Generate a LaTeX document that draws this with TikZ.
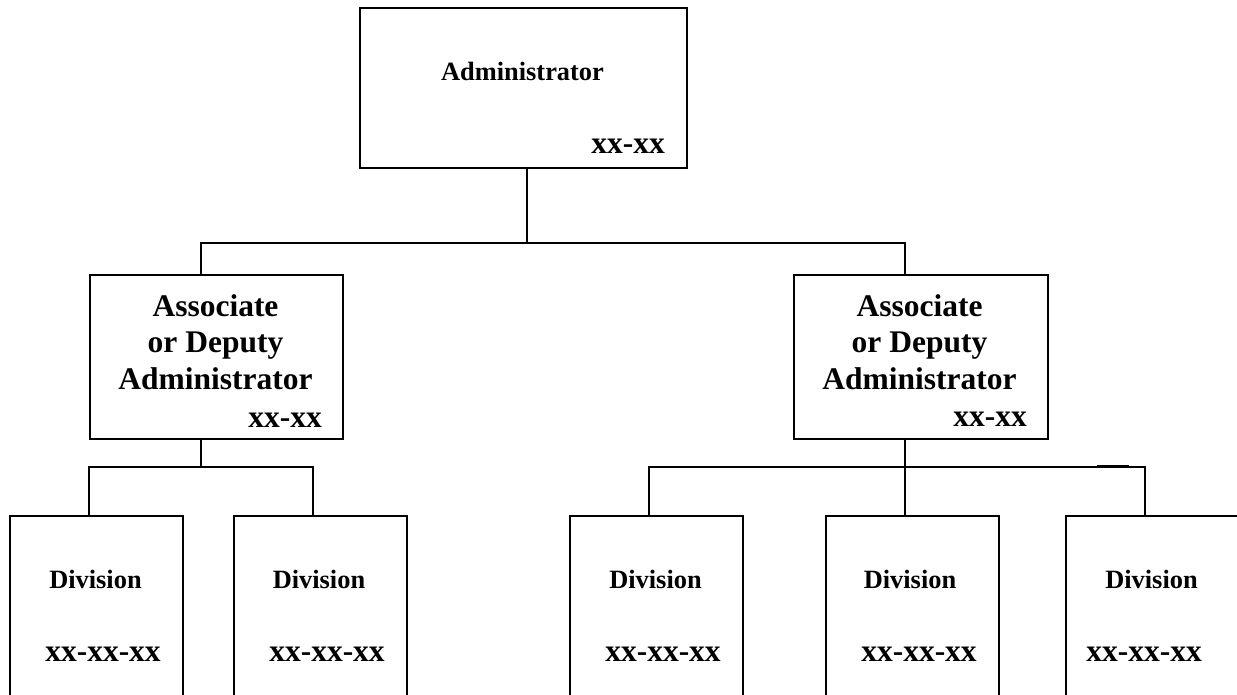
\documentclass[tikz,border=0pt]{standalone}
\usepackage{fontspec}
\setmainfont{Liberation Serif}
\begin{document}
\begin{tikzpicture}[x=1pt,y=-1pt,
  box/.style={draw,line width=1.5pt,rectangle,inner sep=0pt,anchor=north west},
  link/.style={line width=1.5pt},
  small/.style={inner sep=0pt,font=\bfseries\fontsize{26.4}{30}\selectfont},
  big/.style={inner sep=0pt,font=\bfseries\fontsize{31.5}{36.5}\selectfont},
]
\useasboundingbox (0,0) rectangle (1237,694);
\clip (0,0) rectangle (1237,694);
% boxes
\node[box,minimum width=327pt,minimum height=160pt] (top) at (359,7) {};
\node[box,minimum width=253pt,minimum height=164pt] (aL) at (89,274) {};
\node[box,minimum width=254pt,minimum height=164pt] (aR) at (793,274) {};
\node[box,minimum width=173pt,minimum height=220pt] (d1) at (9,515) {};
\node[box,minimum width=173pt,minimum height=220pt] (d2) at (233,515) {};
\node[box,minimum width=173pt,minimum height=220pt] (d3) at (569,515) {};
\node[box,minimum width=173pt,minimum height=220pt] (d4) at (825,515) {};
\node[box,minimum width=173pt,minimum height=220pt] (d5) at (1065,515) {};
% junctions
\coordinate (j0) at (527,243);
\coordinate (cL) at (201,243);
\coordinate (cR) at (905,243);
\coordinate (bL) at (201,467);
\coordinate (bL1) at (89,467);
\coordinate (bL2) at (313,467);
\coordinate (bR) at (905,467);
\coordinate (bR3) at (649,467);
\coordinate (bR5) at (1145,467);
\coordinate (s1) at (1097,466);
\coordinate (s2) at (1129,466);
% connectors
\draw[link] (top.south -| j0) -- (j0);
\draw[link] (cL |- aL.north) -- (cL) -- (cR) -- (cR |- aR.north);
\draw[link] (bL |- aL.south) -- (bL);
\draw[link] (d1.north -| bL1) -- (bL1) -- (bL2) -- (d2.north -| bL2);
\draw[link] (bR |- aR.south) -- (bR |- d4.north);
\draw[link] (d3.north -| bR3) -- (bR3) -- (bR5) -- (d5.north -| bR5);
\draw[line width=2.6pt] (s1) -- (s2);
% texts
\node[small,anchor=base] (tT) at (522.5,80) {Administrator};
\node[big,anchor=base east] (tC) at (665,153) {xx-xx};
\node[big,anchor=base,align=center] (aLT) at (215.5,389) {Associate\\or Deputy\\Administrator};
\node[big,anchor=base east] (aLC) at (322,427) {xx-xx};
\node[big,anchor=base,align=center] (aRT) at (919.5,389) {Associate\\or Deputy\\Administrator};
\node[big,anchor=base east] (aRC) at (1027,426) {xx-xx};
\node[small,anchor=base] (d1T) at (95.5,588) {Division};
\node[big,anchor=base] (d1C) at (103,661) {xx-xx-xx};
\node[small,anchor=base] (d2T) at (319,588) {Division};
\node[big,anchor=base] (d2C) at (327,661) {xx-xx-xx};
\node[small,anchor=base] (d3T) at (655.5,588) {Division};
\node[big,anchor=base] (d3C) at (663,661) {xx-xx-xx};
\node[small,anchor=base] (d4T) at (910,588) {Division};
\node[big,anchor=base] (d4C) at (919,661) {xx-xx-xx};
\node[small,anchor=base] (d5T) at (1151.5,588) {Division};
\node[big,anchor=base] (d5C) at (1144,661) {xx-xx-xx};
\end{tikzpicture}
\end{document}
